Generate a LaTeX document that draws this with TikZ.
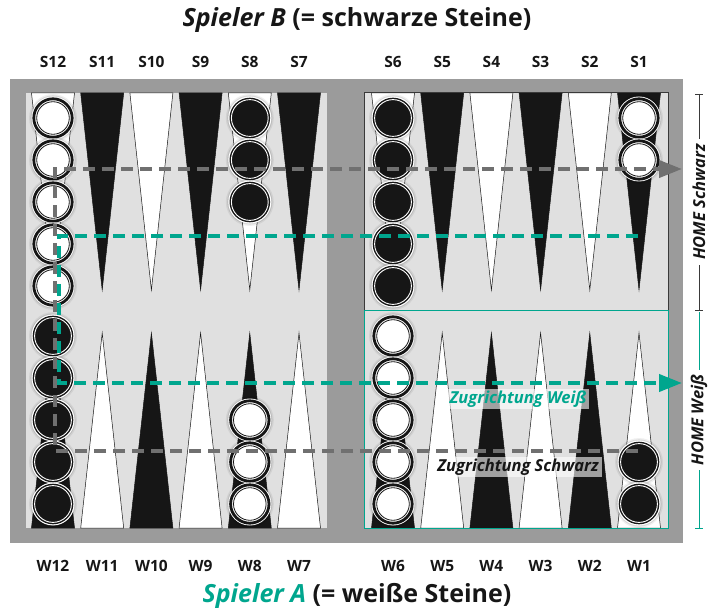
\documentclass[tikz,border=0pt]{standalone}
\usepackage{fontspec}
\setmainfont{Open Sans}
\usetikzlibrary{arrows.meta}
\definecolor{framegray}{RGB}{155,155,155}
\definecolor{boardgray}{RGB}{224,224,224}
\definecolor{pblack}{RGB}{22,22,22}
\definecolor{tealc}{RGB}{0,166,142}
\definecolor{dashgray}{RGB}{112,112,112}
\definecolor{edgegray}{RGB}{58,58,58}
\tikzset{
  wpoint/.style={fill=white, draw=pblack, line width=0.5},
  bpoint/.style={fill=pblack, draw=pblack, line width=0.5},
  numlbl/.style={font=\bfseries\fontsize{15.5}{17}\selectfont, text=pblack, inner sep=0},
  titlelbl/.style={font=\bfseries\fontsize{25}{28}\selectfont, text=pblack, inner sep=0},
  movelbl/.style={font=\bfseries\itshape\fontsize{16.5}{18}\selectfont, fill=white, fill opacity=0.6, text opacity=1, inner xsep=3, inner ysep=1.5},
  homelbl/.style={font=\bfseries\itshape\fontsize{16.5}{18}\selectfont, text=pblack, fill=white, rotate=90, inner xsep=5, inner ysep=1},
  movearrow/.style={line width=4, dash pattern=on 12 off 7, -{Triangle[length=23pt,width=17pt]}},
  wstone/.pic={
    \fill[black,opacity=0.06] (0,0) circle[radius=24];
    \fill[black,opacity=0.10] (0,0) circle[radius=22.6];
    \fill[white] (0,0) circle[radius=21.5];
    \draw[pblack,line width=2.8] (0,0) circle[radius=19.2];
    \draw[pblack,line width=0.8] (0,0) circle[radius=16.3];
  },
  bstone/.pic={
    \fill[black,opacity=0.06] (0,0) circle[radius=24];
    \fill[black,opacity=0.10] (0,0) circle[radius=22.6];
    \fill[white] (0,0) circle[radius=21.5];
    \fill[pblack] (0,0) circle[radius=20.3];
    \draw[white,line width=0.9] (0,0) circle[radius=18.4];
  }
}
\begin{document}
\begin{tikzpicture}[x=1pt,y=-1pt]
\useasboundingbox (0,0) rectangle (715,612);
\fill[white] (0,0) rectangle (715,612);
% frame and board halves
\fill[framegray] (10,79) rectangle (683,543);
\fill[boardgray] (26,93) rectangle (327,528);
\fill[boardgray] (364,93) rectangle (668,528);
% top points
\foreach \cx/\st in {53/wpoint,102.2/bpoint,151.4/wpoint,200.6/bpoint,249.8/wpoint,299/bpoint,
                     393/wpoint,442.2/bpoint,491.4/wpoint,540.6/bpoint,589.8/wpoint,639/bpoint}
  \draw[\st] ({\cx-21.5},93) -- ({\cx+21.5},93) -- (\cx,290) -- cycle;
% bottom points
\foreach \cx/\st in {53/bpoint,102.2/wpoint,151.4/bpoint,200.6/wpoint,249.8/bpoint,299/wpoint,
                     393/bpoint,442.2/wpoint,491.4/bpoint,540.6/wpoint,589.8/bpoint,639/wpoint}
  \draw[\st] ({\cx-21.5},528) -- ({\cx+21.5},528) -- (\cx,333) -- cycle;
% right half borders
\draw[edgegray, line width=1] (364,311) -- (364,93) -- (668,93) -- (668,311);
\draw[tealc, line width=1] (364,311) rectangle (668,528);
% checkers
\foreach \cy in {118,160,202,244,286} \pic at (53,\cy) {wstone};
\foreach \cy in {336,378,420,462,504} \pic at (53,\cy) {bstone};
\foreach \cy in {118,160,202} \pic at (249.8,\cy) {bstone};
\foreach \cy in {420,462,504} \pic at (249.8,\cy) {wstone};
\foreach \cy in {118,160,202,244,286} \pic at (393,\cy) {bstone};
\foreach \cy in {336,378,420,462,504} \pic at (393,\cy) {wstone};
\foreach \cy in {118,160} \pic at (639,\cy) {wstone};
\foreach \cy in {462,504} \pic at (639,\cy) {bstone};
% movement paths
\coordinate (gs) at (638,451);
\coordinate (g1) at (55,451);
\coordinate (g2) at (55,169);
\coordinate (ge) at (682,169);
\draw[movearrow, dashgray] (gs) -- (g1) -- (g2) -- (ge);
\coordinate (ts) at (638,236);
\coordinate (t1) at (59,236);
\coordinate (t2) at (59,383);
\coordinate (te) at (682,383);
\draw[movearrow, tealc] (ts) -- (t1) -- (t2) -- (te);
\node[movelbl, text=tealc] (zw) at (518,399) {Zugrichtung Weiß};
\node[movelbl, text=pblack] (zs) at (518,467) {Zugrichtung Schwarz};
% home markers
\coordinate (hs0) at (699,94);
\coordinate (hs1) at (699,310);
\coordinate (hw0) at (699,312);
\coordinate (hw1) at (699,528);
\draw[edgegray, line width=0.8] (hs0) -- (hs1);
\draw[edgegray, line width=0.8] ([xshift=-4]hs0) -- ([xshift=4]hs0);
\draw[edgegray, line width=0.8] ([xshift=-4]hs1) -- ([xshift=4]hs1);
\draw[tealc, line width=0.8] (hw0) -- (hw1);
\draw[tealc, line width=0.8] ([xshift=-4]hw1) -- ([xshift=4]hw1);
\node[homelbl] (hs) at (699,202) {HOME Schwarz};
\node[homelbl] (hw) at (699,420) {HOME Weiß};
% labels
\foreach \cx/\t [count=\i] in {53/S12,102.2/S11,151.4/S10,200.6/S9,249.8/S8,299/S7,
                     393/S6,442.2/S5,491.4/S4,540.6/S3,589.8/S2,639/S1}
  \node[numlbl] (s\i) at (\cx,62) {\t};
\foreach \cx/\t [count=\i] in {53/W12,102.2/W11,151.4/W10,200.6/W9,249.8/W8,299/W7,
                     393/W6,442.2/W5,491.4/W4,540.6/W3,589.8/W2,639/W1}
  \node[numlbl] (w\i) at (\cx,566) {\t};
\node[titlelbl] (tb) at (357,20) {{\itshape Spieler B} (= schwarze Steine)};
\node[titlelbl] (ta) at (357,596) {{\itshape\color{tealc}Spieler A} (= weiße Steine)};
\end{tikzpicture}
\end{document}
